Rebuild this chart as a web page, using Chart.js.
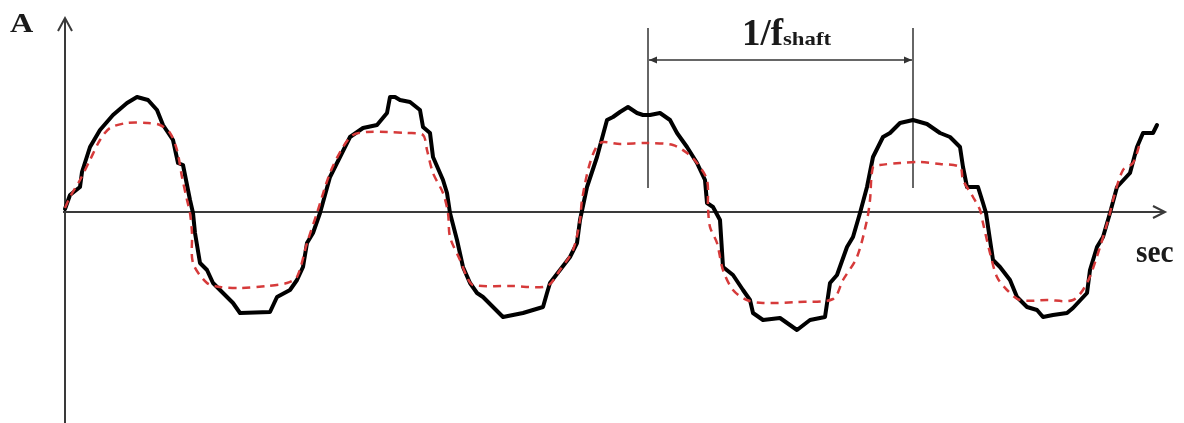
<!DOCTYPE html>
<html>
<head>
<meta charset="utf-8">
<script src="https://cdn.jsdelivr.net/npm/chart.js@4/dist/chart.umd.min.js"></script>
<style>
html,body{margin:0;padding:0;background:#fff;}
canvas{display:block;}
</style>
</head>
<body>
<canvas id="c" width="1184" height="423"></canvas>
<script>
// Measured signal (black, solid): time, amplitude
const measuredT = [0,0.5,1.5,1.7,2.5,3.5,4.8,6.2,7.2,8.3,9.2,9.8,10.8,11.3,11.8,12.5,12.8,13.0,13.5,14.2,14.8,15.8,16.8,17.5,20.5,21.2,22.5,23.2,23.8,24.2,24.8,25.5,26.5,27.5,28.5,29.8,31.2,32.2,32.5,33.0,33.5,34.5,35.5,35.8,36.5,36.8,37.8,38.2,38.5,39.2,39.8,40.5,41.2,41.8,42.8,43.8,45.8,47.8,48.2,48.5,49.5,50.5,51.2,51.5,52.2,53.2,54.2,54.8,55.5,56.3,57.2,57.8,58.5,59.5,60.5,61.2,62.2,63.2,64.0,64.2,64.8,65.5,65.8,66.8,67.8,68.5,68.8,69.8,71.5,73.2,74.5,76.0,76.5,77.2,78.2,78.8,79.5,80.2,80.8,81.8,82.5,83.5,84.8,86.2,87.5,88.5,89.5,89.8,90.2,91.3,91.8,92.1,92.5,92.8,93.5,94.5,95.2,96.2,97.2,97.8,98.8,100.2,100.8,102.2,102.5,103.2,103.8,104.5,105.2,106.5,107.2,107.8,108.8,109.2];
const measuredA = [0.3,1.7,2.5,4.0,6.5,8.2,9.7,10.9,11.5,11.2,10.2,8.7,7.2,4.9,4.7,1.2,-0.1,-2.1,-5.1,-5.8,-7.1,-8.1,-9.1,-10.1,-10.0,-8.5,-7.8,-6.8,-5.5,-3.1,-2.1,-0.1,3.5,5.5,7.5,8.4,8.7,9.9,11.5,11.5,11.2,11.0,10.2,8.5,7.9,5.5,3.2,1.9,-0.1,-2.8,-5.5,-7.1,-8.1,-8.5,-9.5,-10.5,-10.1,-9.5,-8.1,-7.1,-5.8,-4.5,-3.1,-0.8,2.5,5.5,9.2,9.5,10.0,10.5,9.9,9.7,9.7,9.9,9.2,7.9,6.5,4.9,3.2,0.9,0.5,-0.8,-5.5,-6.3,-7.8,-8.8,-10.1,-10.8,-10.6,-11.8,-10.8,-10.5,-7.1,-6.3,-3.5,-2.5,-0.1,2.5,5.5,7.5,7.9,8.9,9.2,8.8,7.9,7.5,6.5,4.5,2.5,2.5,0.9,-0.1,-2.8,-4.8,-5.5,-6.8,-8.5,-9.5,-9.8,-10.5,-10.3,-10.1,-9.6,-8.1,-5.8,-3.5,-2.5,-0.1,2.5,3.9,6.5,7.9,7.9,8.7];

// Reconstructed signal (red, dashed): time, amplitude
const fittedT = [0,0.5,1.5,2.5,3.5,4.5,6.2,8.2,9.5,10.5,11.2,11.7,12.2,12.5,12.7,12.8,14.2,15.5,17.5,20.2,22.2,23.2,24.2,25.2,26.5,27.8,28.8,30.2,32.2,34.2,35.8,36.2,36.8,37.8,38.3,38.5,39.5,40.2,40.8,44.8,48.2,49.5,50.8,51.5,51.7,52.5,53.5,55.5,58.2,60.8,62.2,63.2,64.2,64.3,64.5,65.2,65.8,66.8,68.2,69.8,73.2,76.8,77.8,79.2,80.2,80.5,80.8,81.5,83.5,85.5,87.5,89.5,89.8,90.8,91.5,91.8,92.5,93.2,94.2,95.5,98.2,100.8,102.2,103.5,104.5,104.8,105.8,106.8,107.5];
const fittedA = [0.4,1.5,3.2,5.2,7.2,8.4,8.9,8.9,8.7,7.9,6.2,3.5,1.2,-0.1,-2.1,-5.1,-7.1,-7.5,-7.6,-7.4,-7.1,-6.5,-3.1,-0.1,3.9,6.5,7.7,8.0,8.0,7.9,7.7,6.2,3.9,1.9,-0.1,-2.5,-4.8,-6.5,-7.3,-7.4,-7.4,-5.8,-3.8,-0.8,1.2,4.9,6.9,6.8,6.9,6.7,5.9,4.9,3.2,0.5,-1.5,-3.1,-5.8,-7.8,-8.8,-9.1,-9.0,-8.7,-6.8,-4.5,-0.8,1.2,4.5,4.7,4.9,5.0,4.8,4.5,3.2,1.5,0.2,-1.1,-4.1,-6.5,-7.8,-8.8,-8.8,-8.8,-7.1,-3.5,-0.1,1.2,4.2,4.9,6.9];

// Period markers (1/f_shaft)
const periodMarks = [58.3, 84.8];
const periodMarkSpan = [2.4, 18.4];
const periodArrowLevel = 15.2;

// Axis extents
const xAxisEnd = 110;
const yAxisTop = 19.4;
const yAxisBottom = -21.1;

const labels = { yAxis: 'A', xAxis: 'sec', period: '1/f', periodSub: 'shaft' };

const toPts = (t, a) => t.map((v, i) => ({ x: v, y: a[i] }));

const SERIF = '"Liberation Serif", "DejaVu Serif", serif';

function stretchedText(ctx, text, x, y, sx) {
  ctx.save();
  ctx.translate(x, y);
  ctx.scale(sx, 1);
  ctx.fillText(text, 0, 0);
  ctx.restore();
  return ctx.measureText(text).width * sx;
}

const decor = {
  id: 'decor',
  beforeDatasetsDraw(chart) {
    const { ctx, scales: { x, y } } = chart;
    const x0 = x.getPixelForValue(0), y0 = y.getPixelForValue(0);
    ctx.save();
    ctx.strokeStyle = '#3a3a3a';
    ctx.lineWidth = 2;
    ctx.lineCap = 'butt';
    // y axis
    const yTop = y.getPixelForValue(yAxisTop), yBot = y.getPixelForValue(yAxisBottom);
    ctx.beginPath(); ctx.moveTo(x0, yBot); ctx.lineTo(x0, yTop); ctx.stroke();
    ctx.beginPath(); ctx.moveTo(x0 - 7, yTop + 13); ctx.lineTo(x0, yTop); ctx.lineTo(x0 + 7, yTop + 13); ctx.stroke();
    // x axis
    const xEnd = x.getPixelForValue(xAxisEnd);
    ctx.beginPath(); ctx.moveTo(x0 - 2, y0); ctx.lineTo(xEnd, y0); ctx.stroke();
    ctx.beginPath(); ctx.moveTo(xEnd - 12, y0 - 6); ctx.lineTo(xEnd, y0); ctx.lineTo(xEnd - 12, y0 + 6); ctx.stroke();
    // period markers
    ctx.lineWidth = 1.5;
    ctx.strokeStyle = '#333';
    const ya = y.getPixelForValue(periodMarkSpan[0]), yb = y.getPixelForValue(periodMarkSpan[1]);
    periodMarks.forEach(m => {
      const px = x.getPixelForValue(m);
      ctx.beginPath(); ctx.moveTo(px, ya); ctx.lineTo(px, yb); ctx.stroke();
    });
    const pl = x.getPixelForValue(periodMarks[0]), pr = x.getPixelForValue(periodMarks[1]);
    const py = y.getPixelForValue(periodArrowLevel);
    ctx.beginPath(); ctx.moveTo(pl + 1, py); ctx.lineTo(pr - 1, py); ctx.stroke();
    ctx.fillStyle = '#333';
    ctx.beginPath(); ctx.moveTo(pl + 1, py); ctx.lineTo(pl + 9, py - 3.5); ctx.lineTo(pl + 9, py + 3.5); ctx.closePath(); ctx.fill();
    ctx.beginPath(); ctx.moveTo(pr - 1, py); ctx.lineTo(pr - 9, py - 3.5); ctx.lineTo(pr - 9, py + 3.5); ctx.closePath(); ctx.fill();
    ctx.restore();
  },
  afterDatasetsDraw(chart) {
    const { ctx, scales: { x, y } } = chart;
    const x0 = x.getPixelForValue(0), y0 = y.getPixelForValue(0);
    ctx.save();
    ctx.fillStyle = '#1a1a1a';
    ctx.textBaseline = 'alphabetic';
    ctx.textAlign = 'left';
    ctx.font = 'bold 28px ' + SERIF;
    stretchedText(ctx, labels.yAxis, x0 - 55, y.getPixelForValue(yAxisTop) + 14, 1.15);
    ctx.font = 'bold 31px ' + SERIF;
    stretchedText(ctx, labels.xAxis, x.getPixelForValue(xAxisEnd) - 29, y0 + 50, 0.95);
    const pl = x.getPixelForValue(periodMarks[0]), pr = x.getPixelForValue(periodMarks[1]);
    ctx.font = 'bold 37px ' + SERIF;
    const w1 = ctx.measureText(labels.period).width;
    ctx.font = 'bold 19px ' + SERIF;
    const w2 = ctx.measureText(labels.periodSub).width * 1.2;
    const sx = (pl + pr) / 2 - (w1 + w2) / 2 + 6;
    const by = y.getPixelForValue(periodArrowLevel) - 15;
    ctx.font = 'bold 37px ' + SERIF;
    ctx.fillText(labels.period, sx, by);
    ctx.font = 'bold 19px ' + SERIF;
    stretchedText(ctx, labels.periodSub, sx + w1, by, 1.2);
    ctx.restore();
  }
};

new Chart(document.getElementById('c'), {
  type: 'line',
  data: {
    datasets: [
      {
        label: 'fitted',
        data: toPts(fittedT, fittedA),
        borderColor: '#d63a3a',
        borderWidth: 2.5,
        borderDash: [8, 6],
        pointRadius: 0,
        tension: 0.3,
        fill: false
      },
      {
        label: 'measured',
        data: toPts(measuredT, measuredA),
        borderColor: '#000000',
        borderWidth: 4,
        borderJoinStyle: 'round',
        borderCapStyle: 'round',
        pointRadius: 0,
        tension: 0,
        fill: false
      }
    ]
  },
  options: {
    responsive: false,
    animation: false,
    devicePixelRatio: 1,
    layout: { padding: 0 },
    plugins: { legend: { display: false }, tooltip: { enabled: false } },
    scales: {
      x: { type: 'linear', min: -6.5, max: 111.9, display: false },
      y: { type: 'linear', min: -21.1, max: 21.2, display: false }
    }
  },
  plugins: [decor]
});
</script>
</body>
</html>
